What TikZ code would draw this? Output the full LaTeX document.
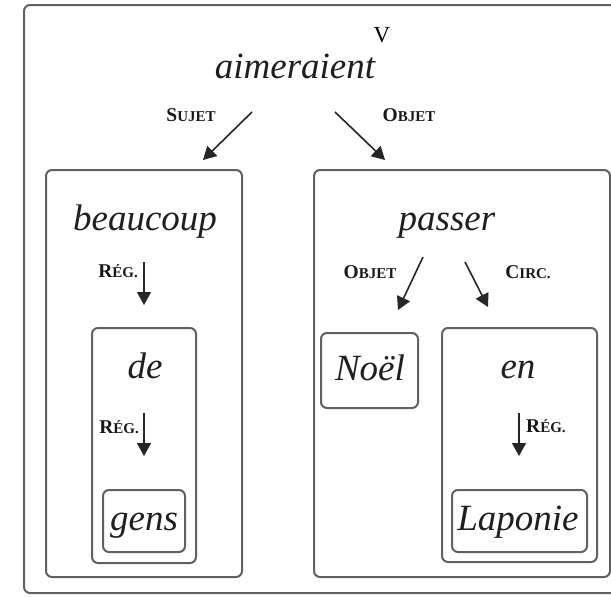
\documentclass[tikz,border=0pt]{standalone}
\usepackage{fontspec}
\setmainfont{Liberation Serif}
\usetikzlibrary{arrows.meta}
\newcommand\smcap[2]{{\fontsize{19.5}{19.5}\selectfont #1}{\fontsize{15}{15}\selectfont #2}}
\begin{document}
\begin{tikzpicture}[x=1pt,y=-1pt,
  frame/.style={draw=black!62, line width=2pt, rounded corners=6pt, inner sep=0pt},
  word/.style={font=\fontsize{37}{37}\selectfont\itshape, text=black!88, inner sep=0pt, anchor=base},
  rel/.style={font=\bfseries, text=black!90, inner sep=0pt, anchor=base},
  arr/.style={draw=black!85, line width=1.6pt, -{Triangle[length=13pt,width=14pt]}}]
\useasboundingbox (0,0) rectangle (611,597);
\fill[white] (0,0) rectangle (611,597);
% outer frame (right edge cut off)
\draw[draw=black!62, line width=2pt, rounded corners=6pt] (24,5) rectangle (618,593);
% boxes
\node[frame, minimum width=196pt, minimum height=407pt] (boxL) at (144,373.5) {};
\node[frame, minimum width=104pt, minimum height=235pt] (boxde) at (144,445.5) {};
\node[frame, minimum width=82pt, minimum height=62pt] (boxgens) at (144,521) {};
\node[frame, minimum width=296pt, minimum height=407pt] (boxR) at (462,373.5) {};
\node[frame, minimum width=97pt, minimum height=75pt] (boxnoel) at (369.5,370.5) {};
\node[frame, minimum width=155pt, minimum height=234pt] (boxen) at (519.5,445) {};
\node[frame, minimum width=135pt, minimum height=62pt] (boxlap) at (519.5,521) {};
% words
\node[font=\fontsize{23}{23}\selectfont, anchor=base, inner sep=0pt] (V) at (382,42) {V};
\node[word] (aim) at (295,78) {aimeraient};
\node[word] (beau) at (145,230) {beaucoup};
\node[word] (de) at (145,378) {de};
\node[word] (gens) at (144,530) {gens};
\node[word] (passer) at (447,230) {passer};
\node[word] (noel) at (370,380) {Noël};
\node[word] (en) at (518,378) {en};
\node[word] (lap) at (518,530) {Laponie};
% relation labels
\node[rel] (lsujet) at (191,121) {\smcap{S}{UJET}};
\node[rel] (lobjet) at (409,121) {\smcap{O}{BJET}};
\node[rel, anchor=base east] (lreg1) at (138,277) {\smcap{R}{ÉG.}};
\node[rel, anchor=base east] (lreg2) at (139,433) {\smcap{R}{ÉG.}};
\node[rel] (lobjet2) at (370,278) {\smcap{O}{BJET}};
\node[rel] (lcirc) at (528,278) {\smcap{C}{IRC.}};
\node[rel, anchor=base west] (lreg3) at (526,432) {\smcap{R}{ÉG.}};
% arrow endpoints
\coordinate (a1s) at (252,112); \coordinate (a1e) at (203,160);
\coordinate (a2s) at (335,112); \coordinate (a2e) at (385,160);
\coordinate (a3s) at (144,262); \coordinate (a3e) at (144,305);
\coordinate (a4s) at (144,413); \coordinate (a4e) at (144,456);
\coordinate (a5s) at (423,257); \coordinate (a5e) at (398,310);
\coordinate (a6s) at (465,262); \coordinate (a6e) at (488,307);
\coordinate (a7s) at (519,413); \coordinate (a7e) at (519,456);
\draw[arr] (a1s) -- (a1e);
\draw[arr] (a2s) -- (a2e);
\draw[arr] (a3s) -- (a3e);
\draw[arr] (a4s) -- (a4e);
\draw[arr] (a5s) -- (a5e);
\draw[arr] (a6s) -- (a6e);
\draw[arr] (a7s) -- (a7e);
\end{tikzpicture}
\end{document}
